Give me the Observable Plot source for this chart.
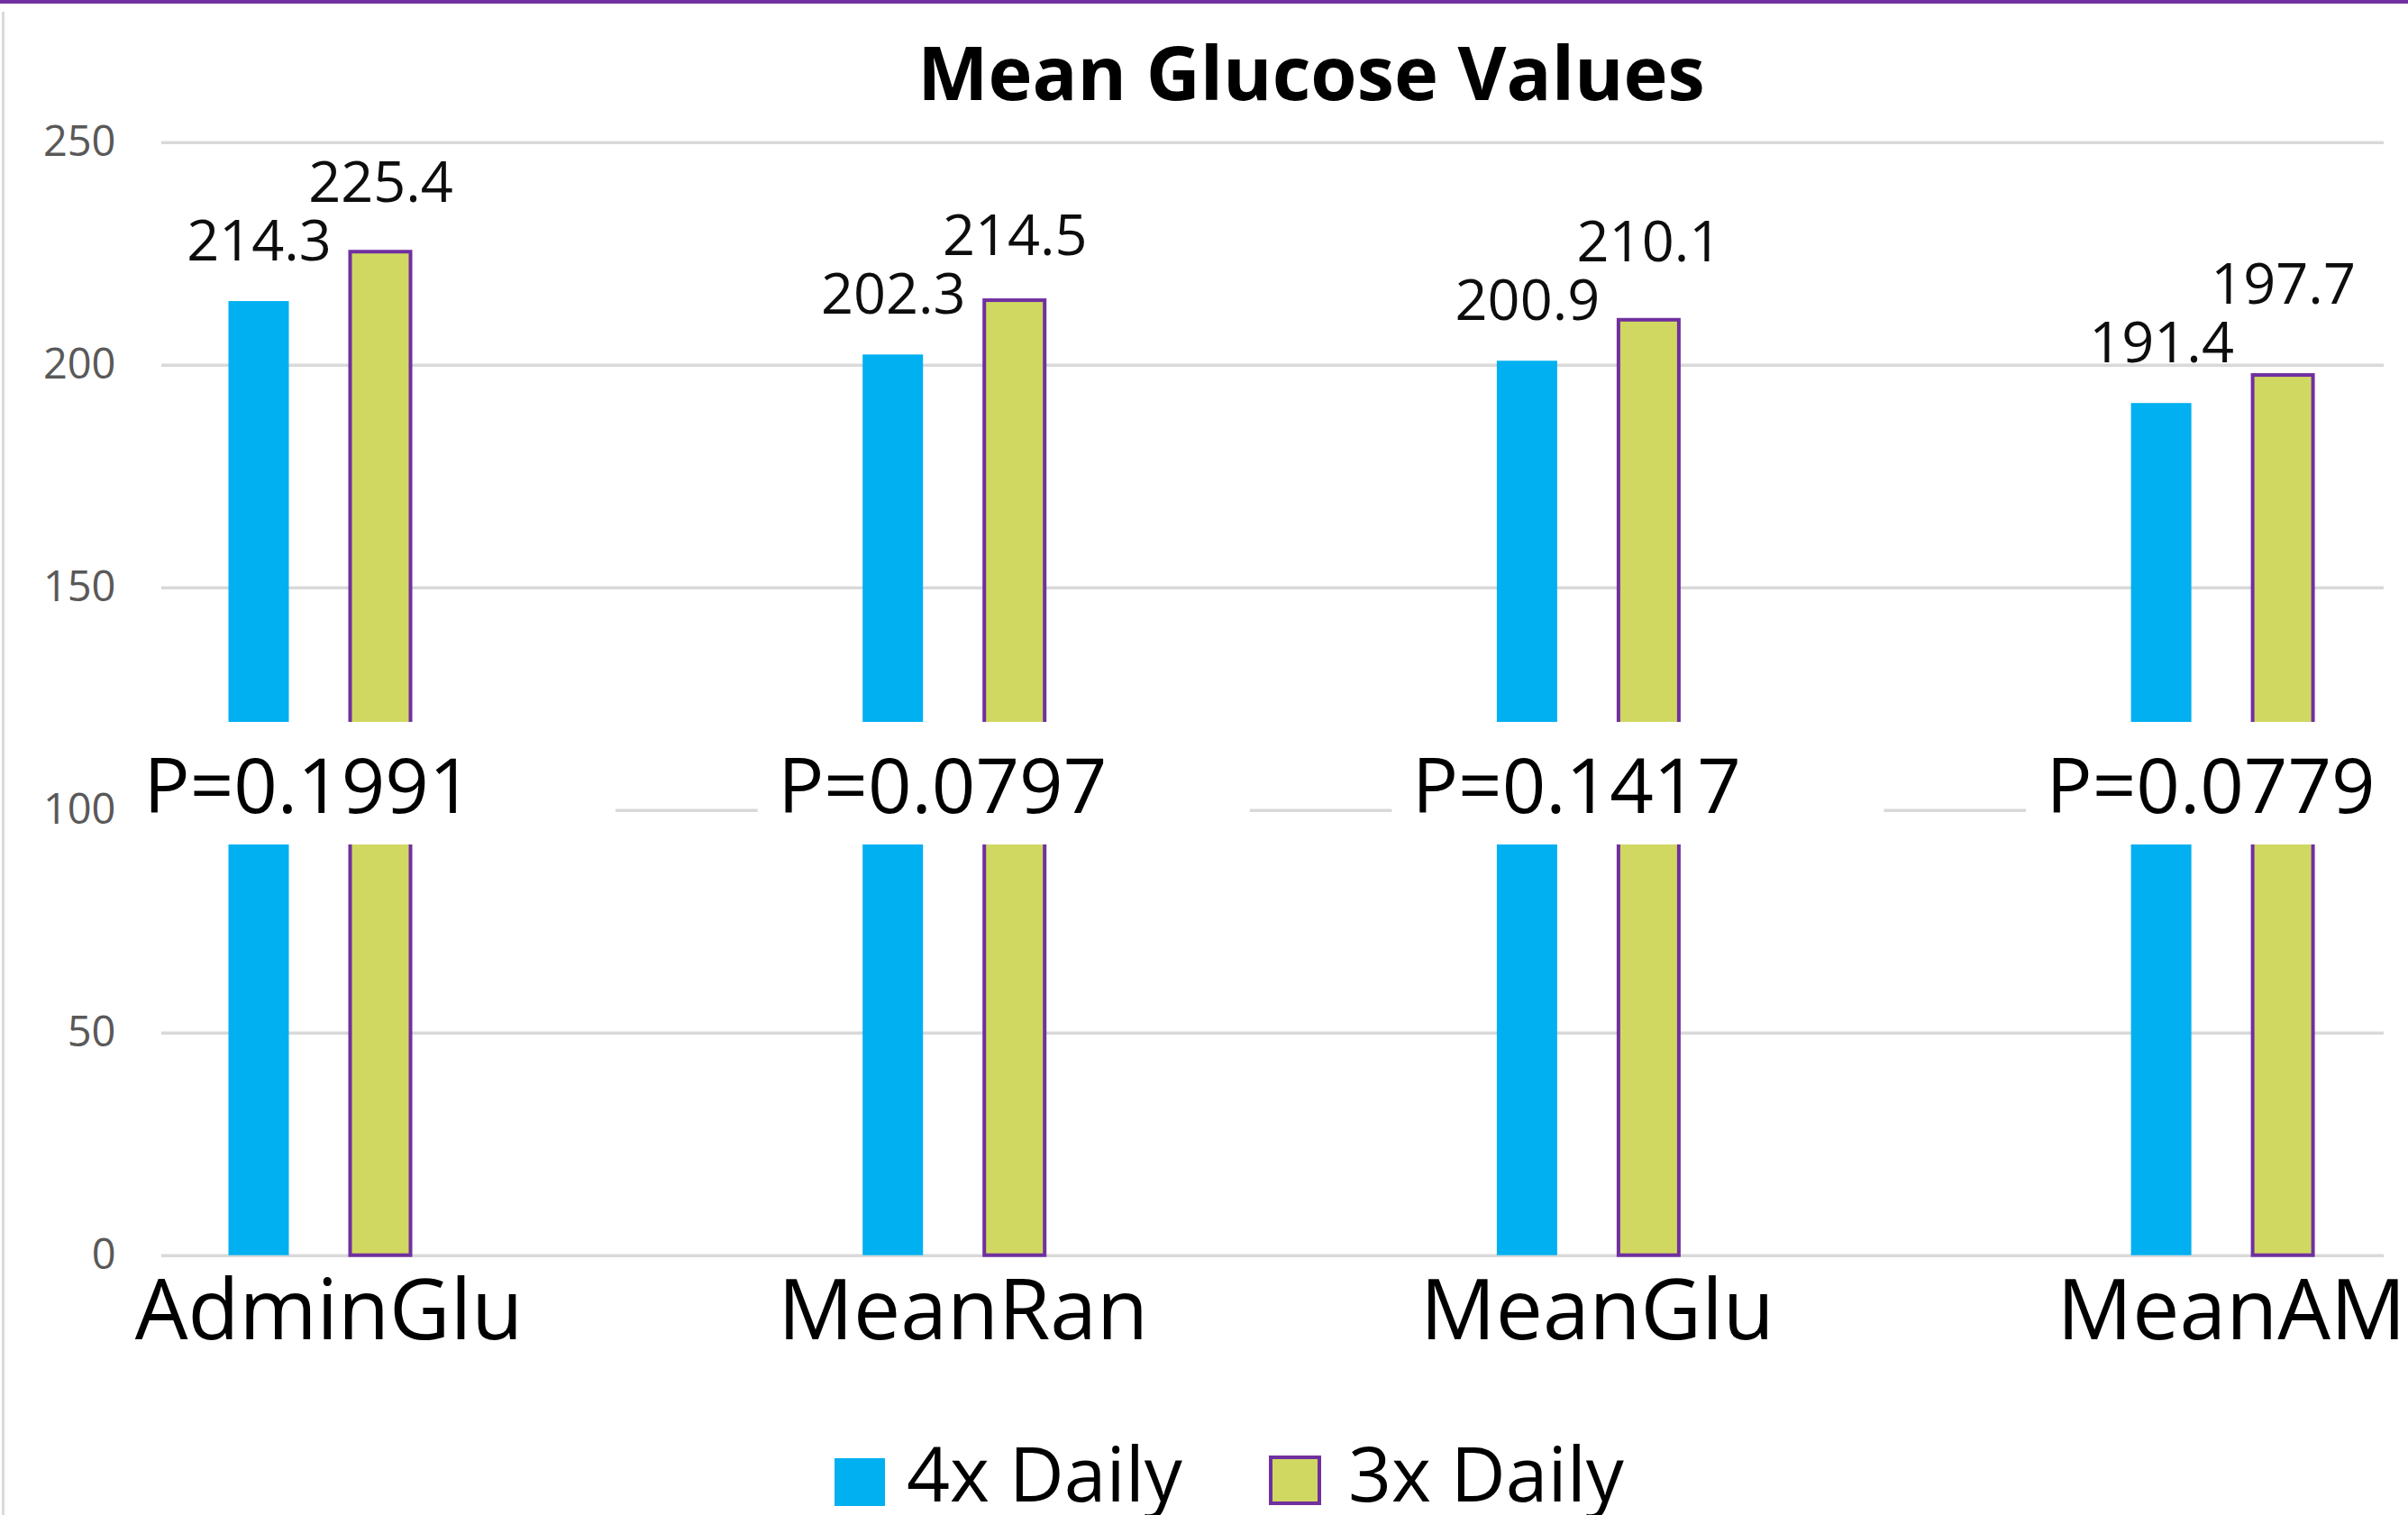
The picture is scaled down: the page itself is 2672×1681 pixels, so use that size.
<!DOCTYPE html>
<html>
<head>
<meta charset="utf-8">
<script src="https://cdn.jsdelivr.net/npm/d3@7"></script>
<script src="https://cdn.jsdelivr.net/npm/@observablehq/plot@0.6"></script>
<style>
  html, body { margin: 0; padding: 0; background: #fff; overflow: hidden; }
  body { width: 2672px; height: 1681px; position: relative; font-family: "Open Sans", sans-serif; }
  #title { position: relative; height: 130px; }
  #title span { position: absolute; left: 0; width: 100%; box-sizing: border-box; padding-left: 238px;
    text-align: center; top: 37px; line-height: 1; font-size: 83px; font-weight: 700; color: #000; }
  #chart svg { display: block; }
  #legend { position: relative; height: 81px; }
  .sw { position: absolute; box-sizing: border-box; }
  .lt { position: absolute; line-height: 1; font-size: 84px; color: #000; top: -8px; white-space: nowrap; }
  #topline { position: absolute; left: 0; top: 0; width: 2672px; height: 4px; background: #7030a0; }
  #leftline { position: absolute; left: 2px; top: 13px; width: 3px; height: 1668px; background: #d9d9d9; }
</style>
</head>
<body>
<div id="title"></div>
<div id="chart"></div>
<div id="legend"></div>
<div id="topline"></div>
<div id="leftline"></div>
<script>
const title = "Mean Glucose Values";
const categories = ["AdminGlu", "MeanRan", "MeanGlu", "MeanAM"];
const seriesNames = ["4x Daily", "3x Daily"];
const fourXDaily = [214.3, 202.3, 200.9, 191.4];
const threeXDaily = [225.4, 214.5, 210.1, 197.7];
const pValues = ["P=0.1991", "P=0.0797", "P=0.1417", "P=0.0779"];
const yTicks = [0, 50, 100, 150, 200, 250];

const blue = "#00b0f0", green = "#d0d862", purple = "#7030a0";
const fmt = d3.format(".1f");

const yDomain = [0, 250];
const yRange = [1262.7, 27.7];
const pxPerUnit = (yRange[0] - yRange[1]) / (yDomain[1] - yDomain[0]);
const labelGapPx = 65; // minimum vertical distance between the two labels of a group

const rows4 = categories.map((c, i) => ({category: c, value: fourXDaily[i], labelY: fourXDaily[i]}));
const rows3 = categories.map((c, i) => ({
  category: c,
  value: threeXDaily[i],
  labelY: Math.max(threeXDaily[i], fourXDaily[i] + labelGapPx / pxPerUnit)
}));
const pRows = categories.map((c, i) => ({category: c, p: pValues[i]}));
const pLevel = 100;

document.getElementById("title").innerHTML = `<span>${title}</span>`;

const pi = 1 - 67 / 703.7;
const chart = Plot.plot({
  width: 2672,
  height: 1470,
  marginLeft: 179,
  marginRight: 27,
  marginTop: 0,
  marginBottom: 0,
  style: {fontFamily: "Open Sans, sans-serif", background: "white", overflow: "visible"},
  x: {type: "band", domain: categories, range: [2.65, 2817.45], paddingInner: pi, paddingOuter: pi / 2, round: false, axis: null},
  y: {domain: yDomain, range: yRange, axis: null},
  marks: [
    Plot.ruleY(yTicks, {stroke: "#d9d9d9", strokeWidth: 3.5}),
    Plot.axisY({ticks: yTicks, tickSize: 0, tickPadding: 51, fontSize: 47, color: "#595959", label: null}),
    Plot.barY(rows4, {x: "category", y: "value", fill: blue, dx: -67.5}),
    Plot.barY(rows3, {x: "category", y: "value", fill: green, stroke: purple, strokeWidth: 4, dx: 67.5}),
    Plot.text(rows4, {x: "category", y: "labelY", text: d => fmt(d.value), dx: -67.5, dy: -46, lineAnchor: "bottom", fontSize: 63, fill: "#0d0d0d"}),
    Plot.text(rows3, {x: "category", y: "labelY", text: d => fmt(d.value), dx: 67.5, dy: -46, lineAnchor: "bottom", fontSize: 63, fill: "#0d0d0d"}),
    Plot.barY(pRows, {x: "category", y1: () => pLevel, y2: () => pLevel, fill: "white",
      insetLeft: -184, insetRight: -295, insetTop: -97.7, insetBottom: -38.3}),
    Plot.text(pRows, {x: "category", y: () => pLevel, text: "p", textAnchor: "start", dx: -195.5, dy: 3, lineAnchor: "bottom", fontSize: 85, fill: "#000"}),
    Plot.text(categories, {x: d => d, y: () => 0, text: d => d, dx: 10, dy: 93, lineAnchor: "bottom", fontSize: 93, fill: "#000"})
  ]
});
document.getElementById("chart").appendChild(chart);

// legend
const legend = document.getElementById("legend");
const items = [
  {name: seriesNames[0], left: 926, top: 18, w: 56, h: 53, style: `background:${blue};`, textLeft: 1006},
  {name: seriesNames[1], left: 1408, top: 15, w: 58, h: 55, style: `background:${green};border:4px solid ${purple};`, textLeft: 1496}
];
for (const it of items) {
  const s = document.createElement("div");
  s.className = "sw";
  s.style.cssText = `left:${it.left}px;top:${it.top}px;width:${it.w}px;height:${it.h}px;${it.style}`;
  legend.appendChild(s);
  const t = document.createElement("span");
  t.className = "lt";
  t.style.left = it.textLeft + "px";
  t.textContent = it.name;
  legend.appendChild(t);
}
</script>
</body>
</html>
